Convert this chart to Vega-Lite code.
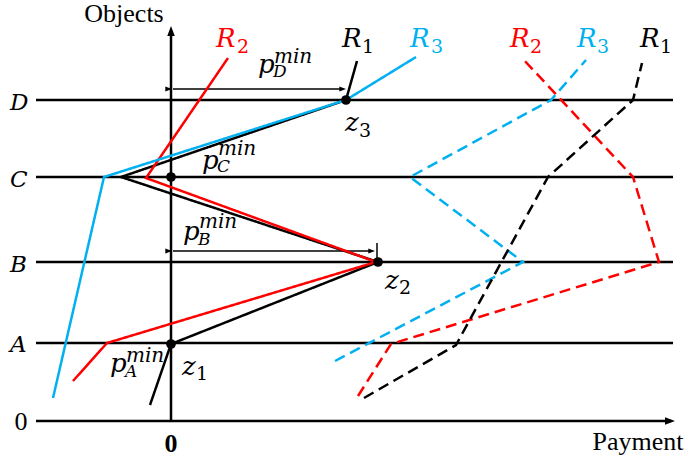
{
  "$schema": "https://vega.github.io/schema/vega-lite/v6.json",
  "width": 687,
  "height": 460,
  "padding": 0,
  "autosize": "none",
  "background": "white",
  "config": {"view": {"stroke": null}},
  "datasets": {
    "levels": [
      {"level": "0", "h": 0, "p0": -135, "p1": 500},
      {"level": "A", "h": 78, "p0": -135, "p1": 502},
      {"level": "B", "h": 159, "p0": -135, "p1": 502},
      {"level": "C", "h": 244, "p0": -135, "p1": 502},
      {"level": "D", "h": 321, "p0": -135, "p1": 502}
    ],
    "vaxis": [
      {"p": 0, "h0": 0, "h1": 388}
    ],
    "pmin": [
      {"name": "pD", "h": 332, "p0": 2, "p1": 172},
      {"name": "pB", "h": 170, "p0": 2, "p1": 201}
    ],
    "ticks": [
      {"p": 206, "h0": 159, "h1": 178}
    ],
    "heads": [
      {"kind": "axis", "dir": "right", "p": 504, "h": 0},
      {"kind": "axis", "dir": "up", "p": 0, "h": 395},
      {"kind": "small", "dir": "left", "p": 1, "h": 332},
      {"kind": "small", "dir": "right", "p": 175, "h": 332},
      {"kind": "small", "dir": "left", "p": 1, "h": 170},
      {"kind": "small", "dir": "right", "p": 204, "h": 170}
    ],
    "lines": [
      {"id": "R1s", "series": "R1", "style": "solid", "o": 1, "p": -21, "h": 16},
      {"id": "R1s", "series": "R1", "style": "solid", "o": 2, "p": 0, "h": 77},
      {"id": "R1s", "series": "R1", "style": "solid", "o": 3, "p": 207, "h": 159},
      {"id": "R1s", "series": "R1", "style": "solid", "o": 4, "p": -50, "h": 244},
      {"id": "R1s", "series": "R1", "style": "solid", "o": 5, "p": 175, "h": 321},
      {"id": "R1s", "series": "R1", "style": "solid", "o": 6, "p": 186, "h": 360},
      {"id": "R2s", "series": "R2", "style": "solid", "o": 1, "p": -98, "h": 40},
      {"id": "R2s", "series": "R2", "style": "solid", "o": 2, "p": -64, "h": 78},
      {"id": "R2s", "series": "R2", "style": "solid", "o": 3, "p": 205, "h": 159},
      {"id": "R2s", "series": "R2", "style": "solid", "o": 4, "p": -25, "h": 243},
      {"id": "R2s", "series": "R2", "style": "solid", "o": 5, "p": 57, "h": 363},
      {"id": "R3s", "series": "R3", "style": "solid", "o": 1, "p": -118, "h": 23},
      {"id": "R3s", "series": "R3", "style": "solid", "o": 2, "p": -67, "h": 244},
      {"id": "R3s", "series": "R3", "style": "solid", "o": 3, "p": 175, "h": 321},
      {"id": "R3s", "series": "R3", "style": "solid", "o": 4, "p": 245, "h": 364},
      {"id": "R2d", "series": "R2", "style": "dashed", "o": 1, "p": 187, "h": 25},
      {"id": "R2d", "series": "R2", "style": "dashed", "o": 2, "p": 220, "h": 77},
      {"id": "R2d", "series": "R2", "style": "dashed", "o": 3, "p": 488, "h": 159},
      {"id": "R2d", "series": "R2", "style": "dashed", "o": 4, "p": 462, "h": 244},
      {"id": "R2d", "series": "R2", "style": "dashed", "o": 5, "p": 352, "h": 362},
      {"id": "R3d", "series": "R3", "style": "dashed", "o": 1, "p": 164, "h": 60},
      {"id": "R3d", "series": "R3", "style": "dashed", "o": 2, "p": 352, "h": 159},
      {"id": "R3d", "series": "R3", "style": "dashed", "o": 3, "p": 239, "h": 244},
      {"id": "R3d", "series": "R3", "style": "dashed", "o": 4, "p": 380, "h": 321},
      {"id": "R3d", "series": "R3", "style": "dashed", "o": 5, "p": 415, "h": 361},
      {"id": "R1d", "series": "R1", "style": "dashed", "o": 1, "p": 193, "h": 23},
      {"id": "R1d", "series": "R1", "style": "dashed", "o": 2, "p": 285, "h": 76},
      {"id": "R1d", "series": "R1", "style": "dashed", "o": 3, "p": 377, "h": 244},
      {"id": "R1d", "series": "R1", "style": "dashed", "o": 4, "p": 462, "h": 321},
      {"id": "R1d", "series": "R1", "style": "dashed", "o": 5, "p": 471, "h": 358}
    ],
    "dots": [
      {"name": "z1", "p": 0, "h": 77},
      {"name": "z2", "p": 207, "h": 159},
      {"name": "z3", "p": 175, "h": 321},
      {"name": "pC", "p": 0, "h": 244}
    ],
    "labels": [
      {"t": "R", "kind": "big", "c": "R2", "p": 45, "h": 374},
      {"t": "R", "kind": "big", "c": "R1", "p": 171, "h": 374},
      {"t": "R", "kind": "big", "c": "R3", "p": 239, "h": 374},
      {"t": "R", "kind": "big", "c": "R2", "p": 339, "h": 374},
      {"t": "R", "kind": "big", "c": "R3", "p": 406, "h": 374},
      {"t": "R", "kind": "big", "c": "R1", "p": 469, "h": 374},
      {"t": "p", "kind": "big", "c": "plain", "p": 87, "h": 348},
      {"t": "p", "kind": "big", "c": "plain", "p": 31, "h": 252},
      {"t": "p", "kind": "big", "c": "plain", "p": 12, "h": 181},
      {"t": "p", "kind": "big", "c": "plain", "p": -61, "h": 49},
      {"t": "z", "kind": "big", "c": "plain", "p": 174, "h": 290},
      {"t": "z", "kind": "big", "c": "plain", "p": 214, "h": 132},
      {"t": "z", "kind": "big", "c": "plain", "p": 11, "h": 46},
      {"t": "min", "kind": "sup", "c": "plain", "p": 103, "h": 358},
      {"t": "min", "kind": "sup", "c": "plain", "p": 47, "h": 266},
      {"t": "min", "kind": "sup", "c": "plain", "p": 28, "h": 193},
      {"t": "min", "kind": "sup", "c": "plain", "p": -45, "h": 59},
      {"t": "D", "kind": "sub", "c": "plain", "p": 102, "h": 344},
      {"t": "C", "kind": "sub", "c": "plain", "p": 46, "h": 249},
      {"t": "B", "kind": "sub", "c": "plain", "p": 27, "h": 176},
      {"t": "A", "kind": "sub", "c": "plain", "p": -46, "h": 44},
      {"t": "D", "kind": "axis", "c": "plain", "p": -161, "h": 311},
      {"t": "C", "kind": "axis", "c": "plain", "p": -161, "h": 234},
      {"t": "B", "kind": "axis", "c": "plain", "p": -161, "h": 149},
      {"t": "A", "kind": "axis", "c": "plain", "p": -161, "h": 69},
      {"t": "2", "kind": "digit", "c": "R2", "p": 66, "h": 368},
      {"t": "1", "kind": "digit", "c": "R1", "p": 191, "h": 368},
      {"t": "3", "kind": "digit", "c": "R3", "p": 260, "h": 368},
      {"t": "2", "kind": "digit", "c": "R2", "p": 359, "h": 368},
      {"t": "3", "kind": "digit", "c": "R3", "p": 426, "h": 368},
      {"t": "1", "kind": "digit", "c": "R1", "p": 489, "h": 368},
      {"t": "3", "kind": "digit", "c": "plain", "p": 188, "h": 284},
      {"t": "2", "kind": "digit", "c": "plain", "p": 228, "h": 127},
      {"t": "1", "kind": "digit", "c": "plain", "p": 25, "h": 41},
      {"t": "Objects", "kind": "word", "c": "plain", "p": -47, "h": 399},
      {"t": "Payment", "kind": "word", "c": "plain", "p": 467, "h": -29},
      {"t": "0", "kind": "word", "c": "plain", "p": -150, "h": -9},
      {"t": "0", "kind": "bold", "c": "plain", "p": 0, "h": -31}
    ]
  },
  "layer": [
    {
      "data": {"name": "levels"},
      "mark": {"type": "rule", "color": "black", "strokeWidth": 2.5},
      "encoding": {
        "x": {"field": "p0", "type": "quantitative", "axis": null, "scale": {"domain": [-171, 516], "nice": false, "zero": false}},
        "x2": {"field": "p1"},
        "y": {"field": "h", "type": "quantitative", "axis": null, "scale": {"domain": [-39, 421], "nice": false, "zero": false}}
      }
    },
    {
      "data": {"name": "vaxis"},
      "mark": {"type": "rule", "color": "black", "strokeWidth": 2.5},
      "encoding": {
        "x": {"field": "p", "type": "quantitative"},
        "y": {"field": "h0", "type": "quantitative"},
        "y2": {"field": "h1"}
      }
    },
    {
      "data": {"name": "pmin"},
      "mark": {"type": "rule", "color": "black", "strokeWidth": 1.5},
      "encoding": {
        "x": {"field": "p0", "type": "quantitative"},
        "x2": {"field": "p1"},
        "y": {"field": "h", "type": "quantitative"}
      }
    },
    {
      "data": {"name": "ticks"},
      "mark": {"type": "rule", "color": "black", "strokeWidth": 1.5},
      "encoding": {
        "x": {"field": "p", "type": "quantitative"},
        "y": {"field": "h0", "type": "quantitative"},
        "y2": {"field": "h1"}
      }
    },
    {
      "data": {"name": "lines"},
      "mark": {"type": "line", "strokeWidth": 2.5},
      "encoding": {
        "x": {"field": "p", "type": "quantitative"},
        "y": {"field": "h", "type": "quantitative"},
        "detail": {"field": "id"},
        "order": {"field": "o", "type": "quantitative"},
        "color": {"field": "series", "type": "nominal", "legend": null,
          "scale": {"domain": ["R1", "R2", "R3", "plain"], "range": ["#000000", "#FF0000", "#00B0F0", "#000000"]}},
        "strokeDash": {"field": "style", "type": "nominal", "legend": null,
          "scale": {"domain": ["solid", "dashed"], "range": [[1, 0], [11, 6]]}}
      }
    },
    {
      "data": {"name": "heads"},
      "transform": [{"filter": "datum.kind === 'axis'"}],
      "mark": {"type": "point", "filled": true, "opacity": 1, "strokeWidth": 0, "color": "black", "size": 100, "shape": "M0,0L-2,-0.75L-2,0.75Z"},
      "encoding": {
        "x": {"field": "p", "type": "quantitative"},
        "y": {"field": "h", "type": "quantitative"},
        "angle": {"field": "dir", "type": "nominal", "legend": null, "scale": {"type": "ordinal", "domain": ["right", "left", "up"], "range": [0, 180, 270]}}
      }
    },
    {
      "data": {"name": "heads"},
      "transform": [{"filter": "datum.kind === 'small'"}],
      "mark": {"type": "point", "filled": true, "opacity": 1, "strokeWidth": 0, "color": "black", "size": 45, "shape": "M0,0L-2,-0.75L-2,0.75Z"},
      "encoding": {
        "x": {"field": "p", "type": "quantitative"},
        "y": {"field": "h", "type": "quantitative"},
        "angle": {"field": "dir", "type": "nominal", "legend": null}
      }
    },
    {
      "data": {"name": "dots"},
      "mark": {"type": "point", "filled": true, "opacity": 1, "color": "black", "shape": "circle", "size": 95},
      "encoding": {
        "x": {"field": "p", "type": "quantitative"},
        "y": {"field": "h", "type": "quantitative"}
      }
    },
    {
      "data": {"name": "labels"},
      "transform": [{"filter": "datum.kind === 'big'"}],
      "mark": {"type": "text", "font": "DejaVu Serif", "fontStyle": "italic", "align": "left", "baseline": "alphabetic", "fontSize": 26},
      "encoding": {
        "x": {"field": "p", "type": "quantitative"},
        "y": {"field": "h", "type": "quantitative"},
        "text": {"field": "t"},
        "color": {"field": "c", "type": "nominal", "legend": null}
      }
    },
    {
      "data": {"name": "labels"},
      "transform": [{"filter": "datum.kind === 'sup'"}],
      "mark": {"type": "text", "font": "DejaVu Serif", "fontStyle": "italic", "align": "left", "baseline": "alphabetic", "fontSize": 20},
      "encoding": {
        "x": {"field": "p", "type": "quantitative"},
        "y": {"field": "h", "type": "quantitative"},
        "text": {"field": "t"},
        "color": {"field": "c", "type": "nominal", "legend": null}
      }
    },
    {
      "data": {"name": "labels"},
      "transform": [{"filter": "datum.kind === 'sub'"}],
      "mark": {"type": "text", "font": "DejaVu Serif", "fontStyle": "italic", "align": "left", "baseline": "alphabetic", "fontSize": 17},
      "encoding": {
        "x": {"field": "p", "type": "quantitative"},
        "y": {"field": "h", "type": "quantitative"},
        "text": {"field": "t"},
        "color": {"field": "c", "type": "nominal", "legend": null}
      }
    },
    {
      "data": {"name": "labels"},
      "transform": [{"filter": "datum.kind === 'axis'"}],
      "mark": {"type": "text", "font": "DejaVu Serif", "fontStyle": "italic", "align": "left", "baseline": "alphabetic", "fontSize": 23},
      "encoding": {
        "x": {"field": "p", "type": "quantitative"},
        "y": {"field": "h", "type": "quantitative"},
        "text": {"field": "t"},
        "color": {"field": "c", "type": "nominal", "legend": null}
      }
    },
    {
      "data": {"name": "labels"},
      "transform": [{"filter": "datum.kind === 'digit'"}],
      "mark": {"type": "text", "font": "DejaVu Serif", "align": "left", "baseline": "alphabetic", "fontSize": 19},
      "encoding": {
        "x": {"field": "p", "type": "quantitative"},
        "y": {"field": "h", "type": "quantitative"},
        "text": {"field": "t"},
        "color": {"field": "c", "type": "nominal", "legend": null}
      }
    },
    {
      "data": {"name": "labels"},
      "transform": [{"filter": "datum.kind === 'word'"}],
      "mark": {"type": "text", "font": "Liberation Serif", "align": "center", "baseline": "alphabetic", "fontSize": 26, "color": "black"},
      "encoding": {
        "x": {"field": "p", "type": "quantitative"},
        "y": {"field": "h", "type": "quantitative"},
        "text": {"field": "t"}
      }
    },
    {
      "data": {"name": "labels"},
      "transform": [{"filter": "datum.kind === 'bold'"}],
      "mark": {"type": "text", "font": "Liberation Serif", "fontWeight": "bold", "align": "center", "baseline": "alphabetic", "fontSize": 26, "color": "black"},
      "encoding": {
        "x": {"field": "p", "type": "quantitative"},
        "y": {"field": "h", "type": "quantitative"},
        "text": {"field": "t"}
      }
    }
  ]
}
